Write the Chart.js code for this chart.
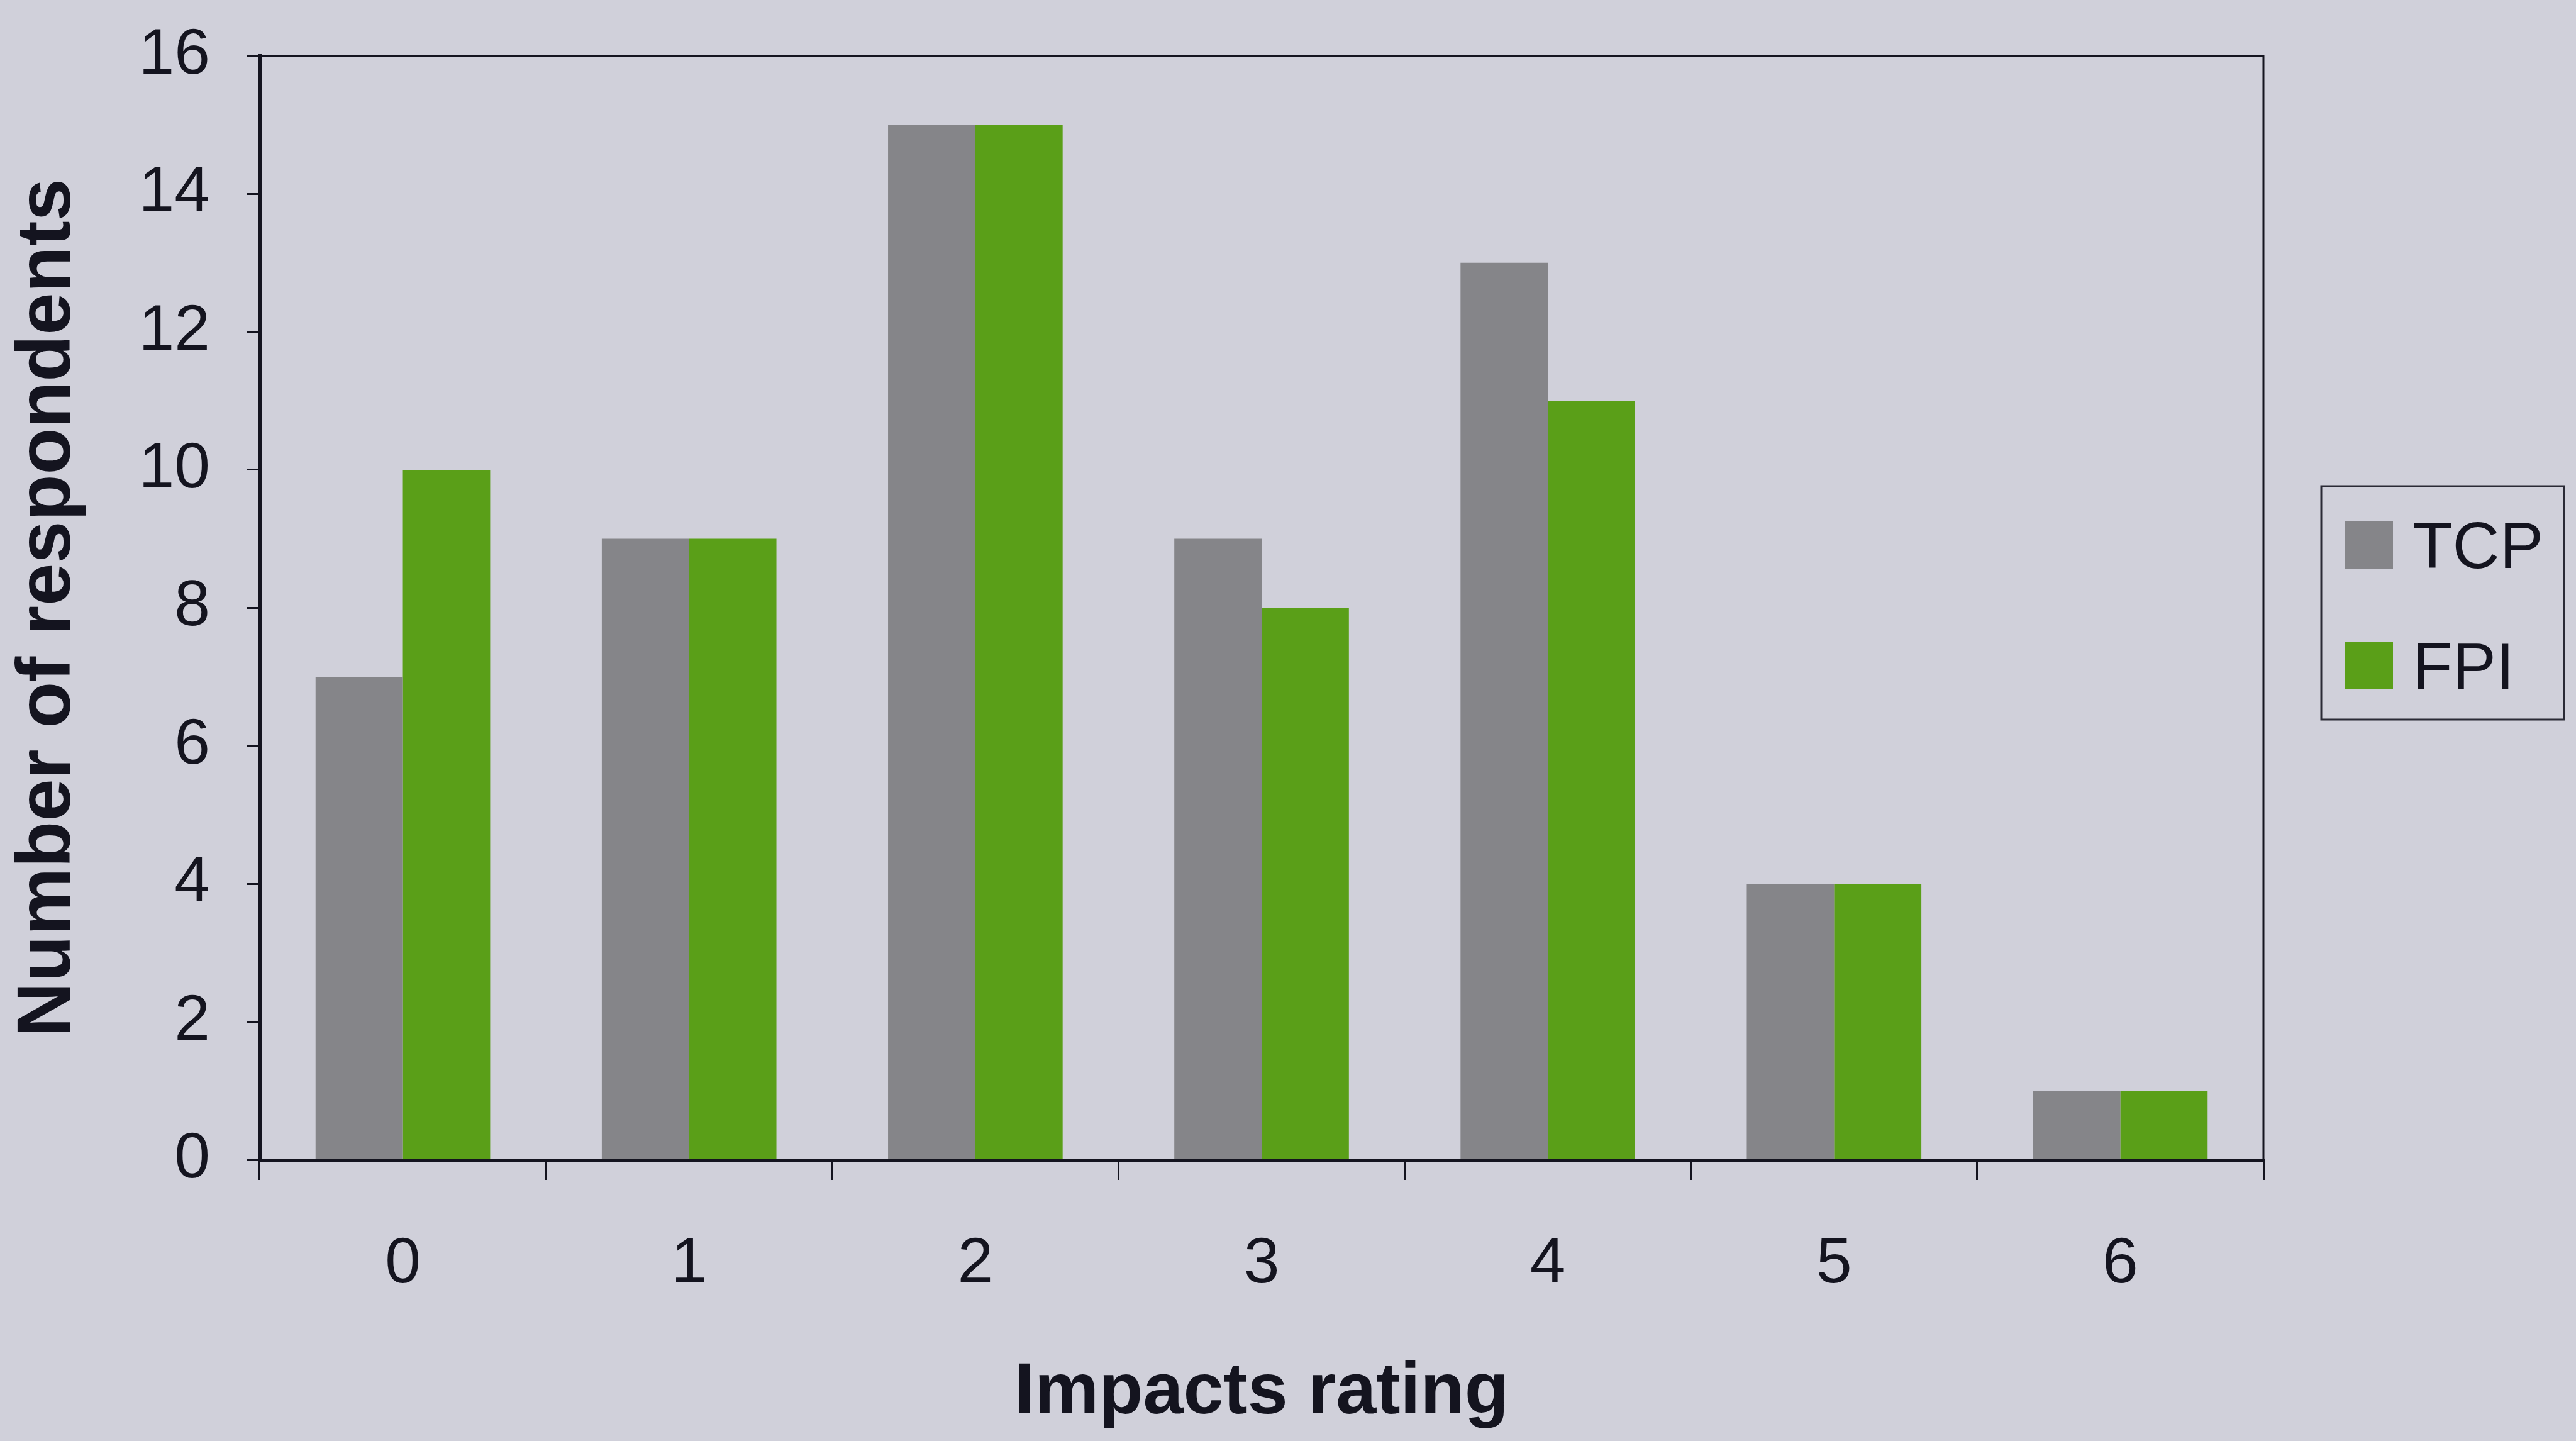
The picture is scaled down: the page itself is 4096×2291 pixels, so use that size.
<!DOCTYPE html>
<html>
<head>
<meta charset="utf-8">
<script src="https://cdn.jsdelivr.net/npm/chart.js@4.4.1/dist/chart.umd.min.js"></script>
<style>
  html, body { margin: 0; padding: 0; background: #d0d0da; }
  #wrap { width: 4096px; height: 2291px; position: relative; }
  canvas { display: block; }
</style>
</head>
<body>
<div id="wrap"><canvas id="chart" width="4096" height="2291"></canvas></div>
<script>
// Survey responses by impacts rating
const categories = ['0', '1', '2', '3', '4', '5', '6'];
const tcpValues = [7, 9, 15, 9, 13, 4, 1];
const fpiValues = [10, 9, 15, 8, 11, 4, 1];
const seriesNames = ['TCP', 'FPI'];
const seriesColors = ['#858589', '#5a9f18'];
const yMin = 0, yMax = 16, yStep = 2;

const INK = '#14141f';
const FONT = "'Liberation Sans', Arial, Helvetica, sans-serif";

// Frame on the top and right sides of the plot area
const plotFrame = {
  id: 'plotFrame',
  afterDraw(chart) {
    const { ctx, chartArea: a } = chart;
    ctx.save();
    ctx.strokeStyle = INK;
    ctx.lineWidth = 3;
    ctx.beginPath();
    ctx.moveTo(a.left, a.top);
    ctx.lineTo(a.right, a.top);
    ctx.lineTo(a.right, a.bottom);
    ctx.stroke();
    ctx.restore();
  }
};

// Boxed legend to the right of the plot
const boxedLegend = {
  id: 'boxedLegend',
  afterDraw(chart) {
    const { ctx } = chart;
    const box = { x: 3691, y: 773, w: 386, h: 371 };
    ctx.save();
    ctx.strokeStyle = '#2a2a35';
    ctx.lineWidth = 3;
    ctx.strokeRect(box.x, box.y, box.w, box.h);
    ctx.font = `104px ${FONT}`;
    ctx.textBaseline = 'alphabetic';
    ctx.textAlign = 'left';
    const rowCenters = [866, 1058];
    chart.data.datasets.forEach((ds, i) => {
      const cy = rowCenters[i];
      ctx.fillStyle = ds.backgroundColor;
      ctx.fillRect(3729, cy - 38, 76, 76);
      ctx.fillStyle = INK;
      ctx.fillText(ds.label, 3836, cy + 37);
    });
    ctx.restore();
  }
};

new Chart(document.getElementById('chart'), {
  type: 'bar',
  data: {
    labels: categories,
    datasets: [
      { label: seriesNames[0], data: tcpValues, backgroundColor: seriesColors[0] },
      { label: seriesNames[1], data: fpiValues, backgroundColor: seriesColors[1] }
    ]
  },
  options: {
    responsive: false,
    devicePixelRatio: 1,
    animation: false,
    layout: { padding: { left: 0, top: 81, right: 497, bottom: 0 } },
    datasets: { bar: { categoryPercentage: 0.61, barPercentage: 1.0, borderWidth: 0 } },
    plugins: { legend: { display: false }, tooltip: { enabled: false } },
    scales: {
      x: {
        grid: {
          offset: true,
          drawOnChartArea: false,
          drawTicks: true,
          tickLength: 32,
          color: INK,
          lineWidth: 3
        },
        border: { display: true, color: INK, width: 5 },
        ticks: {
          color: INK,
          font: { family: FONT, size: 102 },
          padding: 74,
          maxRotation: 0
        },
        title: {
          display: true,
          text: 'Impacts rating',
          color: INK,
          font: { family: FONT, size: 115, weight: 'bold' },
          padding: { top: 0, bottom: 7 }
        },
        afterFit(scale) { scale.height = 447; }
      },
      y: {
        min: yMin,
        max: yMax,
        ticks: {
          stepSize: yStep,
          color: INK,
          font: { family: FONT, size: 102, lineHeight: 0.6 },
          padding: 58
        },
        grid: {
          drawOnChartArea: false,
          drawTicks: true,
          tickLength: 21,
          color: INK,
          lineWidth: 3
        },
        border: { display: true, color: INK, width: 5 },
        title: {
          display: true,
          text: 'Number of respondents',
          color: INK,
          font: { family: FONT, size: 121, weight: 'bold' },
          padding: { top: 5, bottom: 0 }
        },
        afterFit(scale) { scale.width = 413; }
      }
    }
  },
  plugins: [plotFrame, boxedLegend]
});
</script>
</body>
</html>
